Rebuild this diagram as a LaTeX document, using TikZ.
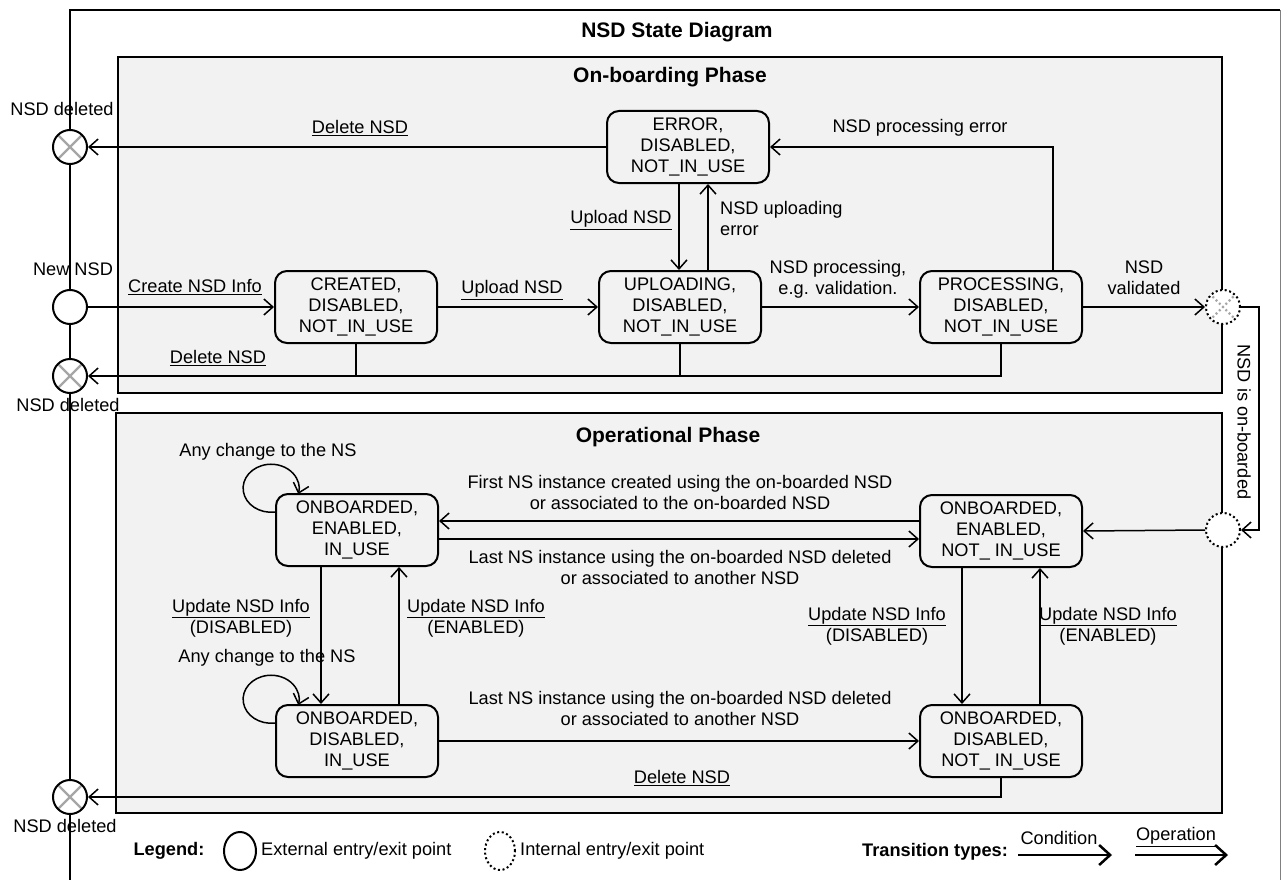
\documentclass[tikz,border=0pt]{standalone}
\usepackage{fontspec}
\setmainfont{Liberation Sans}
\usetikzlibrary{arrows.meta,shapes.geometric}
\definecolor{bgc}{HTML}{F2F2F2}
\definecolor{xgray}{HTML}{A6A6A6}
\begin{document}
\begin{tikzpicture}[x=1pt,y=-1pt,
  every node/.style={font=\fontsize{18.2}{21}\selectfont},
  stbox/.style={draw,line width=2pt,rounded corners=12pt,fill=bgc,align=center,
    minimum width=162pt,minimum height=72pt,inner sep=0pt},
  phase/.style={draw,line width=1.6pt,fill=bgc},
  arr/.style={line width=1.5pt,-{Straight Barb[length=9pt,width=16pt,line width=1.5pt]}},
  ln/.style={line width=1.5pt},
  extc/.style={circle,draw,line width=2pt,fill=white,minimum size=34pt,inner sep=0pt},
  xmark/.style={path picture={\draw[xgray,line width=2.2pt]
     (path picture bounding box.north west) -- (path picture bounding box.south east)
     (path picture bounding box.north east) -- (path picture bounding box.south west);}},
  intc/.style={circle,draw,line width=2pt,dash pattern=on 2pt off 2.6pt,fill=white,
    minimum size=34pt,inner sep=0pt},
  ttl/.style={font=\bfseries\fontsize{21}{24}\selectfont},
  lbl/.style={align=center,inner sep=1pt},
  bigarr/.style={line width=2.5pt,-{Straight Barb[length=11pt,width=20pt,line width=2.5pt]}}
]
\useasboundingbox (0,0) rectangle (1284,880);
% outer frame and lifeline
\draw[line width=1.5pt] (70,880) -- (70,10) -- (1280,10);
\draw[gray,line width=1pt] (1280,10) -- (1280,880);
\node[ttl] (title) at (677,32) {NSD State Diagram};
% phase boxes
\draw[phase] (118,57) rectangle (1222,393);
\draw[phase] (116,413) rectangle (1222,813);
\node[ttl] (onb) at (670,77) {On-boarding Phase};
\node[ttl] (opp) at (668,437) {Operational Phase};

% states
\node[stbox] (err) at (688,147) {ERROR,\\DISABLED,\\NOT\_IN\_USE};
\node[stbox] (cre) at (356,307) {CREATED,\\DISABLED,\\NOT\_IN\_USE};
\node[stbox] (upl) at (680,307) {UPLOADING,\\DISABLED,\\NOT\_IN\_USE};
\node[stbox] (pro) at (1001,307) {PROCESSING,\\DISABLED,\\NOT\_IN\_USE};
\node[stbox] (oei) at (357,530) {ONBOARDED,\\ENABLED,\\IN\_USE};
\node[stbox] (odi) at (357,741) {ONBOARDED,\\DISABLED,\\IN\_USE};
\node[stbox] (oen) at (1001,531) {ONBOARDED,\\ENABLED,\\NOT\_ IN\_USE};
\node[stbox] (odn) at (1001,741) {ONBOARDED,\\DISABLED,\\NOT\_ IN\_USE};

% entry / exit points
\node[extc,xmark] (d1) at (70,147) {};
\node[extc] (n1) at (70,307) {};
\node[extc,xmark] (d2) at (70,376) {};
\node[extc,xmark] (d3) at (70,797) {};
\node[intc,xmark] (ic1) at (1223,307) {};
\node[intc] (ic2) at (1223,530) {};
\node[lbl] (d1l) at (62,109) {NSD deleted};
\node[lbl] (n1l) at (73,269) {New NSD};
\node[lbl] (d2l) at (68,405) {NSD deleted};
\node[lbl] (d3l) at (65,826) {NSD deleted};

% helper columns / rows
\coordinate (c679) at (679,0);
\coordinate (c708) at (708,0);
\coordinate (c1053) at (1053,0);
\coordinate (c321) at (321,0);
\coordinate (c399) at (399,0);
\coordinate (c962) at (962,0);
\coordinate (c1040) at (1040,0);
\coordinate (r521) at (0,521);
\coordinate (r539) at (0,539);
\coordinate (rt) at (1259,307);

% on-boarding transitions
\draw[arr] (err.west) -- (d1.east);
\node[lbl] (l1) at (360,128) {\underline{Delete NSD}};
\draw[arr] (c1053 |- pro.north) |- (err.east);
\node[lbl] (l2) at (920,128) {NSD processing error};
\draw[arr] (c679 |- err.south) -- (c679 |- upl.north);
\node[lbl] (l3) at (621,220) {\underline{Upload NSD}};
\draw[arr] (c708 |- upl.north) -- (c708 |- err.south);
\node[lbl,align=left,anchor=west] (l4) at (719,218) {NSD uploading\\error};
\draw[arr] (n1.east) -- (cre.west);
\node[lbl] (l5) at (195,287) {\underline{Create NSD Info}};
\draw[arr] (cre.east) -- (upl.west);
\node[lbl] (l6) at (512,290) {\underline{Upload NSD}};
\draw[arr] (upl.east) -- (pro.west);
\node[lbl] (l7) at (838,279) {NSD processing,\\e.g. validation.};
\draw[arr] (pro.east) -- (ic1.west);
\node[lbl] (l8) at (1144,278) {NSD\\validated};
\draw[arr] (pro.south) |- (d2.east);
\draw[ln] (cre.south) -- (cre.south |- d2);
\draw[ln] (upl.south) -- (upl.south |- d2);
\node[lbl] (l9) at (218,358) {\underline{Delete NSD}};
\draw[arr] (ic1.east) -- (rt) |- (ic2.east);
\node[lbl,rotate=-90] (l10) at (1244,422) {NSD is on-boarded};

% operational transitions
\draw[arr] (ic2.west) -- (oen.east);
\draw[arr] (oen.west |- r521) -- (oei.east |- r521);
\node[lbl] (l11) at (680,492) {First NS instance created using the on-boarded NSD\\or associated to the on-boarded NSD};
\draw[arr] (oei.east |- r539) -- (oen.west |- r539);
\node[lbl] (l12) at (680,567) {Last NS instance using the on-boarded NSD deleted\\or associated to another NSD};
\draw[arr] (c321 |- oei.south) -- (c321 |- odi.north);
\node[lbl] (l13) at (241,618) {\underline{Update NSD Info}\\(DISABLED)};
\draw[arr] (c399 |- odi.north) -- (c399 |- oei.south);
\node[lbl] (l14) at (476,618) {\underline{Update NSD Info}\\(ENABLED)};
\draw[arr] (c962 |- oen.south) -- (c962 |- odn.north);
\node[lbl] (l15) at (877,626) {\underline{Update NSD Info}\\(DISABLED)};
\draw[arr] (c1040 |- odn.north) -- (c1040 |- oen.south);
\node[lbl] (l16) at (1108,626) {\underline{Update NSD Info}\\(ENABLED)};
\draw[arr] (odi.east) -- (odn.west);
\node[lbl] (l17) at (680,708) {Last NS instance using the on-boarded NSD deleted\\or associated to another NSD};
\draw[arr] (odn.south) |- (d3.east);
\node[lbl] (l18) at (682,778) {\underline{Delete NSD}};
% self loops
\draw[arr] ([yshift=-19pt]oei.north west) arc[start angle=82,end angle=374,x radius=28,y radius=24];
\node[lbl] (l19) at (268,452) {Any change to the NS};
\draw[arr] ([yshift=-19pt]odi.north west) arc[start angle=82,end angle=374,x radius=28,y radius=24];
\node[lbl] (l20) at (267,658) {Any change to the NS};

% legend
\node[font=\bfseries\fontsize{18.2}{21}\selectfont] (lg) at (169,851) {Legend:};
\node[ellipse,draw,line width=2pt,minimum width=32pt,minimum height=38pt,inner sep=0pt] (lge) at (240,851) {};
\node[anchor=west,inner sep=0pt] (lget) at (261,851) {External entry/exit point};
\node[ellipse,draw,line width=2pt,dash pattern=on 2pt off 2.6pt,minimum width=30pt,minimum height=38pt,inner sep=0pt] (lgi) at (500,851) {};
\node[anchor=west,inner sep=0pt] (lgit) at (520,851) {Internal entry/exit point};
\node[font=\bfseries\fontsize{18.2}{21}\selectfont] (tt) at (935,852) {Transition types:};
\coordinate (ca) at (1018,855);
\coordinate (cb) at (1112,855);
\coordinate (oa) at (1135,855);
\coordinate (ob) at (1228,855);
\draw[bigarr] (ca) -- (cb);
\draw[bigarr] (oa) -- (ob);
\node[lbl] (ct) at (1059,838) {Condition};
\node[lbl] (ot) at (1176,837) {\underline{Operation}};
\end{tikzpicture}
\end{document}
